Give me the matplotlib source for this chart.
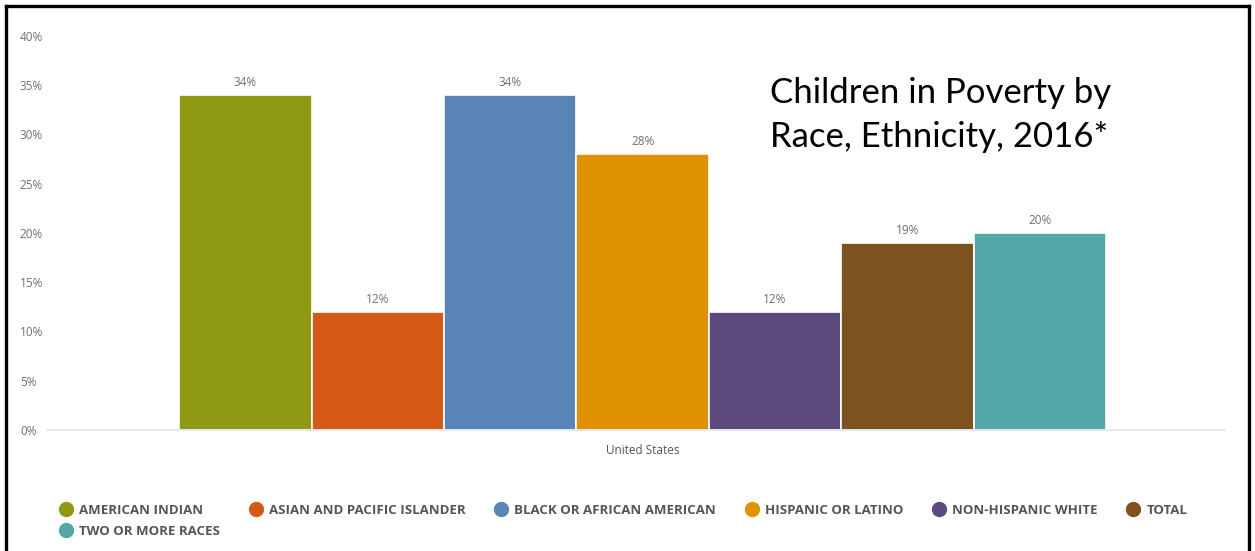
import matplotlib
matplotlib.use("Agg")
import matplotlib.pyplot as plt
from matplotlib.lines import Line2D

# Datos
grupos = ["AMERICAN INDIAN", "ASIAN AND PACIFIC ISLANDER", "BLACK OR AFRICAN AMERICAN",
          "HISPANIC OR LATINO", "NON-HISPANIC WHITE", "TOTAL", "TWO OR MORE RACES"]
valores = [34, 12, 34, 28, 12, 19, 20]
colores = ["#8f9a12", "#d55a15", "#5885b5", "#e09100", "#5d4a7c", "#7d521f", "#52a8a6"]
yticks = [0, 5, 10, 15, 20, 25, 30, 35, 40]
categoria = "United States"

GRIS = "#707070"


def main():
    fig = plt.figure(figsize=(12.55, 5.51), dpi=100)
    ax = fig.add_axes([47 / 1255, 1 - 430 / 551, (1225 - 47) / 1255, (430 - 36) / 551])

    xs = list(range(len(valores)))
    barras = ax.bar(xs, valores, width=1.0, color=colores, edgecolor="white", linewidth=1.2)
    for b, v in zip(barras, valores):
        ax.text(b.get_x() + b.get_width() / 2, v + 0.6, f"{v}%", ha="center", va="bottom",
                fontsize=8.5, color=GRIS, family="Open Sans")

    ax.set_xlim(-1.5, 7.4)
    ax.set_ylim(0, 40)
    ax.set_yticks(yticks)
    ax.set_yticklabels([f"{t}%" for t in yticks], fontsize=8.5, color=GRIS, family="Open Sans")
    for lbl in ax.get_yticklabels():
        lbl.set_horizontalalignment("left")
    ax.tick_params(axis="y", length=0, pad=19.5)
    ax.set_xticks([3])
    ax.set_xticklabels([categoria], fontsize=8.5, color="#555555", family="Open Sans")
    ax.tick_params(axis="x", length=0, pad=10)
    for s in ["top", "right", "left"]:
        ax.spines[s].set_visible(False)
    ax.spines["bottom"].set_color("#e0e6ec")
    ax.spines["bottom"].set_linewidth(1.2)

    # Titulo dentro del grafico
    fig.text(770 / 1255, 1 - 115 / 551, "Children in Poverty by\nRace, Ethnicity, 2016*",
             fontsize=25, family="Lato", color="black", va="center", ha="left",
             linespacing=1.45)

    # Leyenda con circulos (orden por filas)
    handles = [Line2D([], [], marker="o", linestyle="none", markersize=10,
                      markerfacecolor=c, markeredgecolor=c) for c in colores]
    orden = [0, 6, 1, 2, 3, 4, 5]
    leg = fig.legend([handles[i] for i in orden], [grupos[i] for i in orden], ncol=6,
                     loc="upper left", bbox_to_anchor=(54 / 1255, 1 - 497 / 551), frameon=False,
                     handlelength=0.8, handletextpad=0.6, columnspacing=2.3,
                     labelspacing=0.6, borderpad=0, prop={"family": "Open Sans",
                                                          "weight": "bold", "size": 9.5})
    for t in leg.get_texts():
        t.set_color("#555555")

    # Marco negro
    for xy in [([6 / 1255, 6 / 1255], [0, 1 - 6 / 551]),
               ([6 / 1255, 1249 / 1255], [1 - 6 / 551, 1 - 6 / 551]),
               ([1249 / 1255, 1249 / 1255], [0, 1 - 6 / 551])]:
        fig.add_artist(Line2D(xy[0], xy[1], color="black", linewidth=2.4,
                              transform=fig.transFigure))

    fig.savefig("out.png", dpi=100)


if __name__ == "__main__":
    main()
